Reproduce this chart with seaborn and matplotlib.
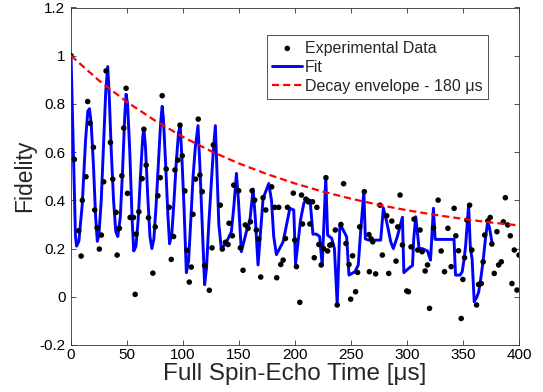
import numpy as np
import pandas as pd
import matplotlib
matplotlib.use("Agg")
import matplotlib.pyplot as plt
import seaborn as sns

# ---- experimental data (time in us, fidelity) ----
data_t = [0, 3, 6.9, 9, 10.1, 13.4, 14.9, 17, 20, 21.2, 23.3, 25.3, 27.1, 29.2, 31.3,
          35.2, 37.3, 40.3, 41.2, 43.2, 45.4, 47.1, 49.2, 50.4, 52.8, 55.8, 57.3, 58.2,
          60.6, 63.5, 65.1, 67.1, 69.2, 73.1, 75.2, 77.6, 79.7, 81.4, 85, 87.7, 89.5,
          91.6, 92.8, 95.5, 97.3, 99.3, 101.7, 103.5, 105.6, 107.4, 108.9, 111.2, 113.6,
          115.1, 117.2, 119.3, 123.5, 125.9, 127.1, 133.3, 135.1, 137.8, 140.2, 141.1,
          144.1, 145.3, 149.7, 151.2, 153.6, 155.7, 158.1, 160.2, 161.7, 164, 165.5,
          167.6, 169.4, 171.5, 173.9, 179.2, 181.9, 183.7, 185.5, 187.3, 189.4, 191.5,
          193.3, 198.5, 199.8, 201.3, 204.3, 205.8, 206.7, 209.7, 211.8, 213.3, 215.7,
          217.2, 219.5, 221.3, 223.4, 225.5, 227.6, 229.1, 231.1, 232.7, 236, 237.7,
          241, 243.4, 245.5, 248.2, 249.7, 251.4, 254.1, 255.9, 257.7, 261.9, 266,
          266.4, 268, 269.4, 272, 275.9, 278, 281.9, 283.7, 286.4, 290.2, 291.7, 293.8,
          295.9, 299.8, 301.3, 303.6, 306.3, 309.6, 311.7, 313.5, 316.2, 318.3, 320.1,
          323.7, 327.8, 330.5, 333.5, 336.5, 339.4, 342.1, 343.6, 346, 348.4, 349.9,
          351.4, 353.5, 355.9, 357.9, 362.1, 363.9, 366.3, 368, 369.3, 372.2, 374.3,
          375.8, 377.9, 380.3, 381.8, 384.2, 386, 387.8, 389.9, 392.2, 393.7, 395.8,
          398.2, 400]
data_v = [1.0, 0.57, 0.274, 0.169, 0.40, 0.498, 0.81, 0.72, 0.62, 0.36, 0.286, 0.198,
          0.256, 0.477, 0.937, 0.64, 0.488, 0.35, 0.173, 0.284, 0.502, 0.70, 0.865, 0.429,
          0.329, 0.329, 0.01, 0.26, 0.353, 0.49, 0.695, 0.546, 0.328, 0.098, 0.29, 0.419,
          0.494, 0.834, 0.53, 0.371, 0.155, 0.25, 0.526, 0.567, 0.712, 0.585, 0.439, 0.193,
          0.061, 0.123, 0.342, 0.488, 0.737, 0.505, 0.436, 0.129, 0.027, 0.203, 0.63,
          0.38, 0.198, 0.226, 0.217, 0.305, 0.253, 0.463, 0.44, 0.203, 0.11, 0.298, 0.284,
          0.311, 0.44, 0.401, 0.277, 0.239, 0.082, 0.411, 0.36, 0.456, 0.371, 0.079, 0.371,
          0.134, 0.152, 0.242, 0.371, 0.43, 0.235, 0.125, -0.023, 0.422, 0.302, 0.405,
          0.394, 0.302, 0.394, 0.162, 0.371, 0.217, 0.132, 0.2, 0.494, 0.19, 0.214, 0.217,
          0.277, -0.034, 0.30, 0.469, 0.221, 0.134, -0.01, 0.17, 0.021, 0.101, 0.29, 0.436,
          0.258, 0.104, 0.24, 0.228, 0.095, 0.38, 0.173, 0.336, 0.097, 0.314, 0.148, 0.29,
          0.422, 0.215, 0.024, 0.021, 0.207, 0.322, 0.194, 0.277, 0.187, 0.107, 0.132,
          -0.048, 0.286, 0.401, 0.19, 0.104, 0.284, 0.125, 0.367, 0.253, 0.191, -0.09,
          0.072, 0.162, 0.318, 0.38, 0.194, -0.034, 0.051, 0.055, 0.145, 0.256, 0.315,
          0.329, 0.219, 0.097, 0.27, 0.132, 0.145, 0.311, 0.411, 0.298, 0.253, 0.055,
          0.194, 0.028, 0.173]

# ---- fit curve (vertices) ----
fit_t = [0, 2, 4, 5, 7, 10, 13, 15, 16.5, 18, 20, 22, 23.5, 25, 27, 29, 31, 32.8, 34, 36,
         38, 40, 41.8, 44, 46, 48, 49.2, 50.5, 52.5, 54.5, 56, 58, 60, 62, 64, 65, 66.5,
         68.5, 70.5, 72.2, 74, 76, 78, 80, 81.4, 82.5, 84.5, 86.5, 88, 90, 92, 94, 96,
         97.5, 99, 101, 103, 105, 107, 109, 111, 113.4, 115, 117, 119.3, 121, 123, 125,
         127, 128.9, 130.5, 132, 134.2, 138.1, 143.2, 145.5, 147.7, 149.5, 152.1, 156.6,
         159.6, 162.6, 164.5, 167, 171.5, 176.6, 179, 181, 183.4, 189.4, 195.4, 198.9,
         200.5, 205, 208, 211, 213.5, 216, 219, 222, 224.3, 227.5, 229.1, 232.7, 235.2,
         237.7, 240.1, 241.6, 246.1, 248.2, 253.5, 256.5, 258.6, 261.5, 262.8, 266, 270,
         274, 276.5, 278.9, 282.5, 285.5, 287.8, 291.4, 295.9, 297.2, 302, 304.9, 306,
         307.8, 310.8, 313.5, 318.3, 321, 323.6, 325.1, 330, 336, 342, 343.3, 347.4,
         349.3, 351.1, 352.3, 355, 356.6, 358.1, 360, 362, 364, 366, 368, 370, 372,
         373.5, 375, 376.2]
fit_v = [1.0, 0.62, 0.25, 0.21, 0.23, 0.38, 0.65, 0.77, 0.78, 0.72, 0.55, 0.33, 0.23,
         0.26, 0.40, 0.62, 0.85, 0.955, 0.85, 0.60, 0.40, 0.27, 0.25, 0.33, 0.52, 0.75,
         0.84, 0.80, 0.60, 0.33, 0.19, 0.21, 0.32, 0.50, 0.66, 0.70, 0.62, 0.42, 0.25,
         0.20, 0.24, 0.38, 0.55, 0.72, 0.79, 0.74, 0.55, 0.34, 0.22, 0.26, 0.40, 0.56,
         0.68, 0.71, 0.58, 0.36, 0.10, 0.15, 0.32, 0.50, 0.62, 0.71, 0.55, 0.32, 0.05,
         0.12, 0.30, 0.45, 0.60, 0.71, 0.50, 0.30, 0.20, 0.22, 0.27, 0.38, 0.512, 0.40,
         0.187, 0.27, 0.311, 0.447, 0.33, 0.132, 0.408, 0.47, 0.40, 0.25, 0.175, 0.228,
         0.367, 0.36, 0.135, 0.32, 0.39, 0.405, 0.40, 0.26, 0.26, 0.25, 0.13, 0.495,
         0.256, 0.243, 0.20, -0.034, 0.297, 0.29, 0.249, 0.09, 0.104, 0.132, 0.27, 0.436,
         0.24, 0.235, 0.235, 0.235, 0.235, 0.369, 0.297, 0.228, 0.20, 0.25, 0.33, 0.10,
         0.12, 0.13, 0.24, 0.332, 0.20, 0.20, 0.19, 0.152, 0.367, 0.238, 0.238, 0.238,
         0.238, 0.09, 0.09, 0.104, 0.16, 0.21, 0.38, 0.20, 0.159, -0.02, -0.005, 0.02,
         0.08, 0.15, 0.24, 0.31, 0.29, 0.25, 0.215]

# ---- decay envelope (every 25 us) ----
env_t = [0, 25, 50, 75, 100, 125, 150, 175, 200, 225, 250, 275, 300, 325, 350, 375, 400]
env_v = [1.0, 0.897, 0.808, 0.731, 0.663, 0.604, 0.553, 0.509, 0.470, 0.436, 0.407,
         0.381, 0.359, 0.340, 0.323, 0.308, 0.296]

x_ticks = [0, 50, 100, 150, 200, 250, 300, 350, 400]
y_ticks = [-0.2, 0, 0.2, 0.4, 0.6, 0.8, 1.0, 1.2]
y_tick_labels = ["-0.2", "0", "0.2", "0.4", "0.6", "0.8", "1", "1.2"]

df_data = pd.DataFrame({"t": data_t, "v": data_v})
df_fit = pd.DataFrame({"t": fit_t, "v": fit_v})
df_env = pd.DataFrame({"t": env_t, "v": env_v})

sns.set_style("ticks")
plt.rcParams["font.family"] = ["Liberation Sans", "DejaVu Sans"]

fig = plt.figure(figsize=(5.43, 3.92), dpi=100)
ax = fig.add_axes([71 / 543, 1 - 345 / 392, (519 - 71) / 543, (345 - 7.5) / 392])

sns.scatterplot(data=df_data, x="t", y="v", ax=ax, color="black", s=16,
                edgecolor="none", label="Experimental Data", zorder=3)
sns.lineplot(data=df_fit, x="t", y="v", ax=ax, color=(0, 0, 1), linewidth=2.1,
             estimator=None, sort=False, label="Fit", zorder=2)
sns.lineplot(data=df_env, x="t", y="v", ax=ax, color=(1, 0, 0), linewidth=1.6,
             estimator=None, sort=False, label="Decay envelope - 180 \u03bcs", zorder=4)
ax.lines[-1].set_dashes((3.2, 1.8))

ax.set_xlim(0, 400)
ax.set_ylim(-0.2, 1.2)
ax.set_xticks(x_ticks)
ax.set_xticklabels([str(v) for v in x_ticks])
ax.set_yticks(y_ticks)
ax.set_yticklabels(y_tick_labels)

for s in ax.spines.values():
    s.set_visible(True)
    s.set_color("#333333")
    s.set_linewidth(0.6)
ax.tick_params(direction="in", top=True, right=True, length=3.5, width=0.6,
               color="#333333", labelsize=11, labelcolor="black")
ax.tick_params(axis="y", pad=4)
ax.tick_params(axis="x", pad=2)

ax.set_xlabel("Full Spin-Echo Time [\u03bcs]", fontsize=17.5, labelpad=1)
ax.set_ylabel("Fidelity", fontsize=16.5, labelpad=2)

leg = ax.legend(loc="upper right", bbox_to_anchor=(0.931, 0.9185), borderaxespad=0,
                fontsize=11.5, frameon=True, fancybox=False, framealpha=1,
                edgecolor="#333333", handlelength=1.9, handletextpad=0.15,
                borderpad=0.35, labelspacing=0.25, scatterpoints=1)
leg.get_frame().set_linewidth(0.6)

fig.savefig("out.png", dpi=100)
